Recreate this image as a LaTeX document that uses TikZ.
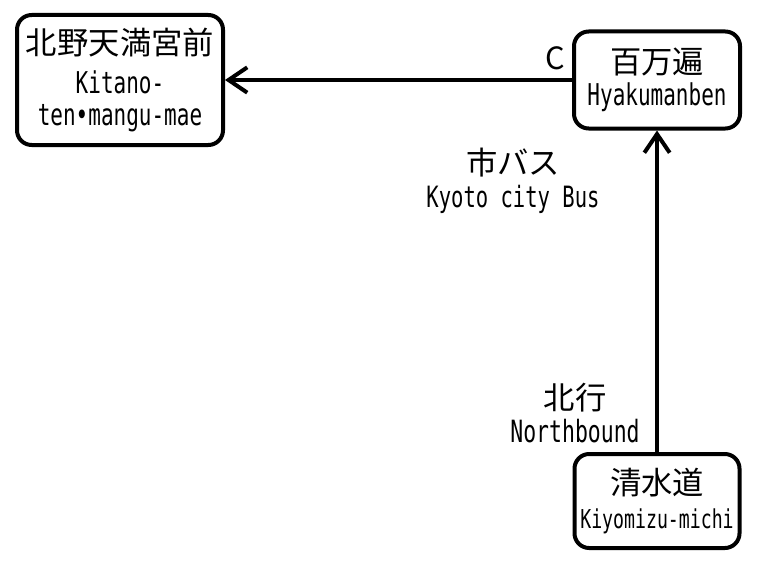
\documentclass[tikz,border=0pt]{standalone}
\usepackage{fontspec}
\newfontfamily\jpf{Noto Sans CJK JP}
\newfontfamily\latf{DejaVu Sans Mono}[FakeStretch=0.7]
\usetikzlibrary{arrows.meta,positioning}
\newcommand{\jp}[1]{{\jpf\fontsize{23.5}{27}\selectfont #1}}
\tikzset{
 stop/.style={draw,line width=3pt,rounded corners=11pt,align=center,inner sep=0pt,font=\latf\fontsize{22.5}{24}\selectfont},
 route/.style={line width=3pt,-{Straight Barb[length=14pt,width=19pt,line width=3pt]}},
 lbl/.style={align=center,inner sep=0pt,font=\latf\fontsize{22}{25}\selectfont}
}
\begin{document}
\begin{tikzpicture}[x=.75pt,y=-.75pt]
\useasboundingbox (0,0) rectangle (763,567);
\node[stop,minimum width=154.5pt,minimum height=97.5pt] (kitano) at (120,80) {\jp{北野天満宮前}\\[5pt]Kitano-\\ten•mangu-mae};
\node[stop,minimum width=124.5pt,minimum height=72.75pt] (hyaku) at (657,80) {\jp{百万遍}\\Hyakumanben};
\node[stop,minimum width=123.75pt,minimum height=70.5pt,font=\latf\fontsize{19.5}{25}\selectfont] (kiyo) at (657,501) {\jp{清水道}\\Kiyomizu-michi};
\node[lbl,font=\jpf\fontsize{23}{25}\selectfont] (cl) at (555,58) {C};
\node[lbl] (bus) at (513,181) {\jp{市バス}\\Kyoto city Bus};
\node[lbl,font=\latf\fontsize{23}{25}\selectfont] (north) at (575,413) {\jp{北行}\\Northbound};
\draw[route] (hyaku) -- (kitano);
\draw[route] (kiyo) -- (hyaku);
\end{tikzpicture}
\end{document}
